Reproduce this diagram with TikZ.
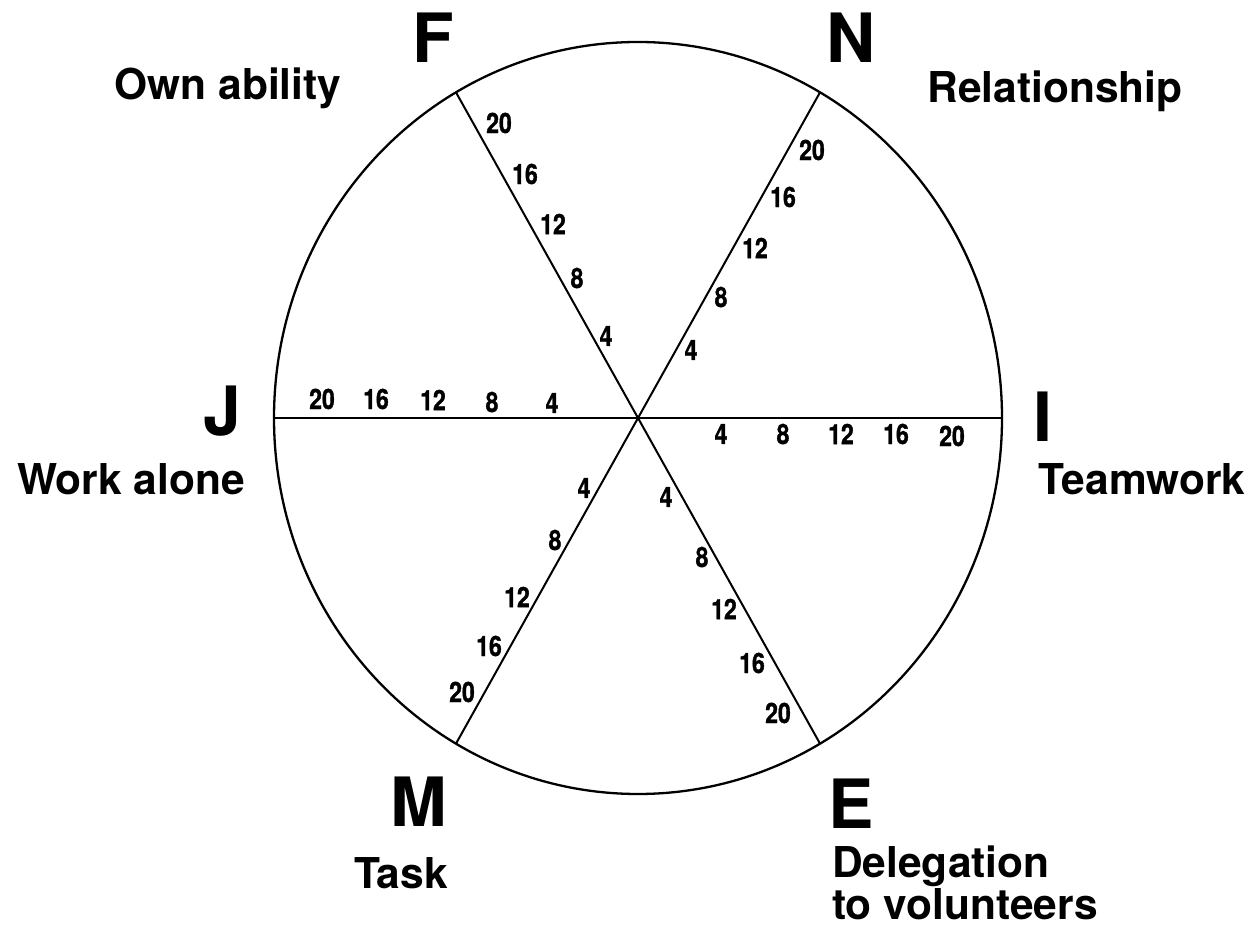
\documentclass[tikz,border=0pt]{standalone}
\usepackage{fontspec}
\setmainfont{TeX Gyre Heros}
\newfontfamily\numfont[FakeStretch=0.82,FakeBold=1.2]{TeX Gyre Heros}
\usepackage{tikz}
\usetikzlibrary{positioning,calc}

\begin{document}
\begin{tikzpicture}[x=1pt,y=1pt,
    spoke/.style={line width=2pt},
    rim/.style={line width=2.3pt},
    num/.style={inner sep=0pt,font=\numfont\bfseries\fontsize{28}{28}\selectfont},
    pole/.style={inner sep=0pt,font=\bfseries\fontsize{68}{68}\selectfont},
    lab/.style={inner sep=0pt,font=\bfseries\fontsize{42.5}{35}\selectfont}]
  \useasboundingbox (0,0) rectangle (1256,943);
  \coordinate (c) at (638,525);
  \draw[rim] (c) ellipse [x radius=364,y radius=376];
  % six spokes
  \foreach \nm/\a in {I/0,N/60,F/120,J/180,M/240,E/300}
     {\coordinate (end\nm) at ($(c)+(\a:364 and 376)$);
      \draw[spoke] (c) -- (end\nm);}
  % scale values
  \foreach \n/\x/\y in {20/322/544,16/376/544,12/433/543,8/492/541,4/552/540}
     {\node[num] (j\n) at (\x,\y) {\n};}
  \foreach \n/\x/\y in {4/721/509,8/783/509,12/841/509,16/896/509,20/952/507}
     {\node[num] (i\n) at (\x,\y) {\n};}
  \foreach \n/\x/\y in {20/499/820,16/525/769,12/553/719,8/577/665,4/606/607}
     {\node[num] (f\n) at (\x,\y) {\n};}
  \foreach \n/\x/\y in {20/812/793,16/783/746,12/755/695,8/721/646,4/691/593}
     {\node[num] (n\n) at (\x,\y) {\n};}
  \foreach \n/\x/\y in {4/584/455,8/555/403,12/517/346,16/489/297,20/462/251}
     {\node[num] (m\n) at (\x,\y) {\n};}
  \foreach \n/\x/\y in {4/666/446,8/702/386,12/724/334,16/752/280,20/778/230}
     {\node[num] (e\n) at (\x,\y) {\n};}
  % poles
  \node[pole] (F) at (433,905) {F};
  \node[pole] (N) at (851,905) {N};
  \node[pole] (J) at (222,532) {J};
  \node[pole] (I) at (1043,526) {I};
  \node[pole] (M) at (419,141) {M};
  \node[pole] (E) at (851,139) {E};
  \node[lab,anchor=base] (own) at (228,843) {Own ability};
  \node[lab,anchor=base] (rel) at (1055,840) {Relationship};
  \node[lab,anchor=base] (alone) at (131,448) {Work alone};
  \node[lab,anchor=base] (team) at (1142,448) {Teamwork};
  \node[lab,anchor=base] (task) at (401,55) {Task};
  \node[lab,align=left,anchor=north west] (del) at (832,97) {Delegation\\to volunteers};
\end{tikzpicture}
\end{document}
